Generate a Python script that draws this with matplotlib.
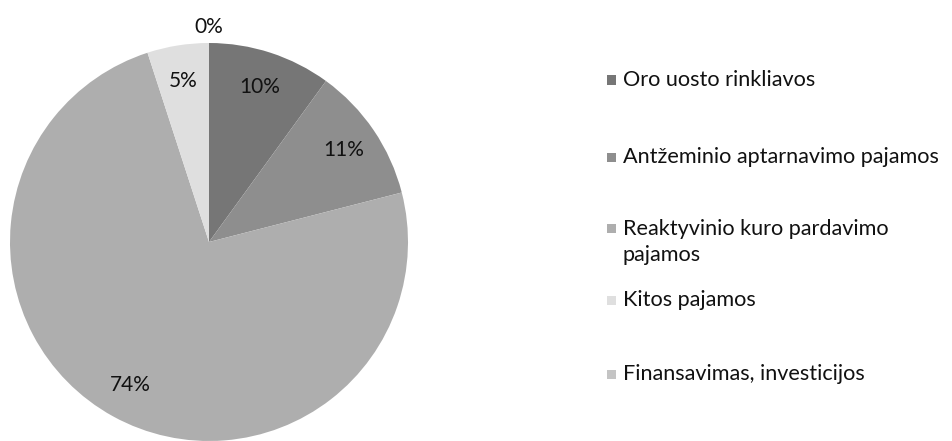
import matplotlib
matplotlib.use('Agg')
import matplotlib.pyplot as plt
from matplotlib.patches import Rectangle

plt.rcParams['font.family'] = ['Lato', 'DejaVu Sans']

categories = ["Oro uosto rinkliavos",
              "Antžeminio aptarnavimo pajamos",
              "Reaktyvinio kuro pardavimo\npajamos",
              "Kitos pajamos",
              "Finansavimas, investicijos"]
values = [10, 11, 74, 5, 0]
colors = ["#767676", "#8e8e8e", "#aeaeae", "#dfdfdf", "#c4c4c4"]

W, H = 952, 441
fig = plt.figure(figsize=(W / 100, H / 100), dpi=100)
fig.patch.set_facecolor('white')

cx, cy, r = 209, 242, 199
ax = fig.add_axes([(cx - r) / W, (H - cy - r) / H, 2 * r / W, 2 * r / H])
wedges, texts, autotexts = ax.pie(values, colors=colors, startangle=90,
                                  counterclock=False, autopct='%1.0f%%',
                                  pctdistance=0.82, radius=1,
                                  wedgeprops=dict(linewidth=0),
                                  textprops=dict(fontsize=15, color='#111111'))
ax.set_xlim(-1, 1)
ax.set_ylim(-1, 1)
# zero slice label sits above the pie
autotexts[-1].set_position((0, 1.08))

# legend (manual, to match layout)
leg_y = [80, 157, 228, 300, 374]
mx, tx = 607, 623
for lab, col, y in zip(categories, colors, leg_y):
    fig.patches.append(Rectangle(((mx) / W, (H - y - 4.5) / H), 9 / W, 9 / H,
                                 transform=fig.transFigure, facecolor=col,
                                 edgecolor='none'))
    nl = lab.count('\n')
    yc = y + nl * 14
    fig.text(tx / W, (H - yc) / H, lab, fontsize=15.6, color='#111111',
             ha='left', va='center', linespacing=1.33)

fig.savefig('out.png', dpi=100, facecolor='white')
